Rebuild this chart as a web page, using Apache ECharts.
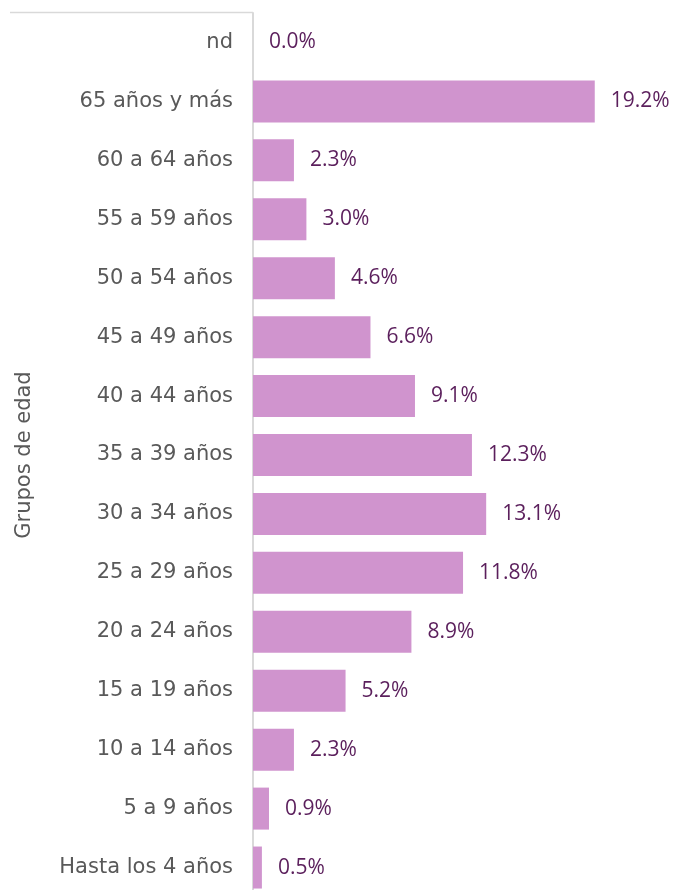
<!DOCTYPE html>
<html>
<head>
    <meta charset="utf-8"/>
    <title>Grupos de edad</title>
    <script src="https://cdn.jsdelivr.net/npm/echarts@6/dist/echarts.min.js"></script>
    <style>
        html, body { margin: 0; padding: 0; background: #fff; }
        #chart { width: 675px; height: 890px; }
    </style>
</head>
<body>
<div id="chart"></div>
<script>
    // categorias (de arriba hacia abajo en el grafico)
    var grupos = ['nd', '65 años y más', '60 a 64 años', '55 a 59 años', '50 a 54 años',
        '45 a 49 años', '40 a 44 años', '35 a 39 años', '30 a 34 años', '25 a 29 años',
        '20 a 24 años', '15 a 19 años', '10 a 14 años', '5 a 9 años', 'Hasta los 4 años'];
    // porcentajes
    var valores = [0.0, 19.2, 2.3, 3.0, 4.6, 6.6, 9.1, 12.3, 13.1, 11.8, 8.9, 5.2, 2.3, 0.9, 0.5];

    var fuenteEje = '"DejaVu Sans", sans-serif';
    var fuenteValor = '"Open Sans", sans-serif';
    var chart = echarts.init(document.getElementById('chart'));
    var option = {
        animation: false,
        grid: {
            left: 253,
            top: 13,
            width: 356,
            height: 884,
            containLabel: false,
            outerBoundsMode: 'none'
        },
        xAxis: {
            type: 'value',
            min: 0,
            max: 20,
            show: false
        },
        yAxis: {
            type: 'category',
            inverse: true,
            data: grupos,
            name: 'Grupos de edad',
            nameLocation: 'middle',
            nameGap: 218,
            nameRotate: 90,
            nameTextStyle: {
                color: '#595959',
                fontSize: 21,
                fontFamily: fuenteEje
            },
            axisLine: {
                lineStyle: { color: '#d9d9d9', width: 2 }
            },
            axisTick: { show: false },
            axisLabel: {
                margin: 20,
                color: '#595959',
                fontSize: 21,
                fontFamily: fuenteEje
            }
        },
        graphic: [{
            type: 'line',
            shape: { x1: 10, y1: 12.5, x2: 253, y2: 12.5 },
            style: { stroke: '#d9d9d9', lineWidth: 1.5 }
        }],
        series: [{
            type: 'bar',
            data: valores,
            barWidth: 42,
            itemStyle: { color: '#d094ce' },
            label: {
                show: true,
                position: 'right',
                distance: 16,
                color: '#5b1f5c',
                fontSize: 21,
                fontFamily: fuenteValor,
                formatter: function (p) { return p.value.toFixed(1) + '%'; }
            }
        }]
    };
    chart.setOption(option);
</script>
</body>
</html>
